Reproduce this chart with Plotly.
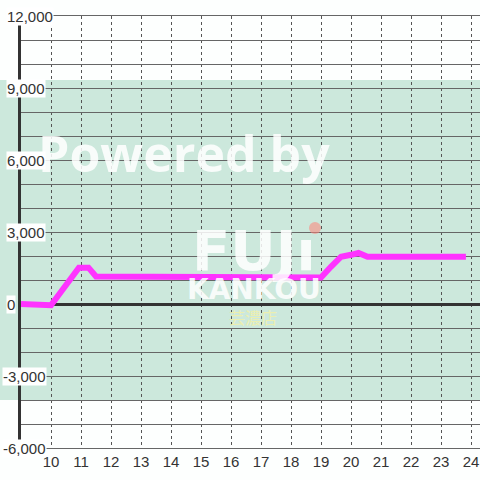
import plotly.graph_objects as go

# ---- data ----
hours = [9.0, 9.75, 10.0, 10.93, 11.25, 11.5, 18.33, 18.67, 19.0, 19.33, 19.67, 20.0, 20.25, 20.55, 23.83]
values = [0, 0, -50, 1515, 1515, 1150, 1150, 1090, 1100, 1550, 1970, 2050, 2125, 1965, 1965]

x_tick_vals = list(range(10, 25))
x_tick_labels = [str(v) for v in x_tick_vals]

y_grid_vals = list(range(-6000, 12001, 1000))
y_tick_vals = [12000, 9000, 6000, 3000, 0, -3000, -6000]
y_tick_labels = ["12,000", "9,000", "6,000", "3,000", "0", "-3,000", "-6,000"]

band_range = [-4000, 9333]

# ---- layout geometry ----
W, H = 480, 480
ML, MR, MT, MB = 21, 0, 16, 32
PW = W - ML - MR
PH = H - MT - MB


def px_x(px):
    return (px - ML) / PW


def px_y(py):
    return (H - MB - py) / PH


fig = go.Figure()
fig.add_trace(go.Scatter(
    x=hours, y=values, mode="lines",
    line=dict(color="#ff33ff", width=6),
    hoverinfo="skip", showlegend=False,
))

shapes = [
    dict(type="rect", xref="paper", yref="y", x0=px_x(0), x1=1,
         y0=band_range[0], y1=band_range[1],
         fillcolor="#cce8dc", line=dict(width=0), layer="below"),
    dict(type="circle", xref="paper", yref="paper",
         x0=px_x(309), x1=px_x(321), y0=px_y(234), y1=px_y(222),
         fillcolor="rgba(255,130,120,0.55)", line=dict(width=0)),
]

annotations = []

# watermark (drawn first so axis labels sit on top)
annotations.append(dict(
    x=px_x(184), y=px_y(153), xref="paper", yref="paper", text="Powered by",
    showarrow=False, xanchor="center", yanchor="middle",
    font=dict(family="Open Sans", size=50, color="rgba(255,255,255,0.85)", weight=700),
))
annotations.append(dict(
    x=px_x(254), y=px_y(262), xref="paper", yref="paper",
    text="<span style='font-size:56px'>FUJı</span><br><span style='font-size:28px'>KANKOU</span>",
    showarrow=False, xanchor="center", yanchor="middle",
    font=dict(family="DejaVu Sans", size=22, color="rgba(255,255,255,0.85)", weight=700),
))
annotations.append(dict(
    x=px_x(253), y=px_y(317), xref="paper", yref="paper", text="芸濃店",
    showarrow=False, xanchor="center", yanchor="middle",
    font=dict(family="Noto Sans CJK JP", size=16, color="rgba(240,240,170,0.9)"),
))

for v, t in zip(y_tick_vals, y_tick_labels):
    left = 2 if t.startswith("-") else 6
    annotations.append(dict(
        x=px_x(left), xref="paper", y=v, yref="y", text=t,
        xanchor="left", yanchor="middle", showarrow=False,
        bgcolor="white", borderpad=0,
        font=dict(family="Liberation Sans, Arial, sans-serif", size=15, color="#333333"),
    ))

fig.update_layout(
    width=W, height=H,
    margin=dict(l=ML, r=MR, t=MT, b=MB, pad=0),
    paper_bgcolor="#fdfffe", plot_bgcolor="#fdfffe",
    showlegend=False,
    shapes=shapes,
    annotations=annotations,
    xaxis=dict(
        range=[9, 9 + PW / 30.0],
        tickvals=x_tick_vals, ticktext=x_tick_labels,
        showgrid=True, gridcolor="#555555", gridwidth=1, griddash="dot",
        zeroline=False, showline=True, linecolor="#666666", linewidth=1, mirror=True,
        ticks="", tickfont=dict(family="Liberation Sans, Arial, sans-serif", size=15, color="#333333"),
        fixedrange=True,
    ),
    yaxis=dict(
        range=[-6000, 12000],
        tickvals=y_grid_vals, showticklabels=False,
        showgrid=True, gridcolor="#666666", gridwidth=1,
        zeroline=True, zerolinecolor="#333333", zerolinewidth=3,
        showline=True, linecolor="#333333", linewidth=3,
        ticks="", fixedrange=True,
    ),
)

fig.write_html(
    "out.html",
    config={"displayModeBar": False},
    post_script="document.body.style.margin='0';document.body.style.padding='0';",
)
